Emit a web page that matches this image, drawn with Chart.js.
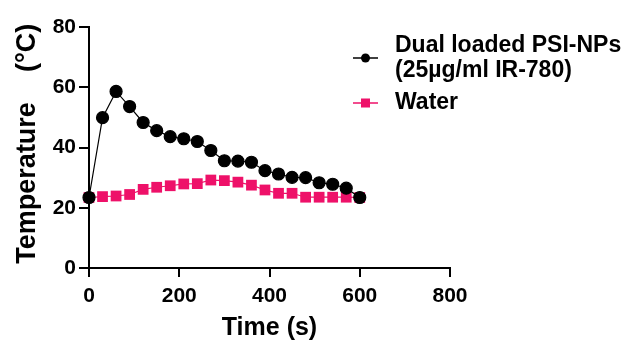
<!DOCTYPE html>
<html>
<head>
<meta charset="utf-8">
<script src="https://cdn.jsdelivr.net/npm/chart.js@4.4.0/dist/chart.umd.min.js"></script>
<style>
  body { margin: 0; background: #fff; }
  #wrap { position: relative; width: 624px; height: 342px; }
</style>
</head>
<body>
<div id="wrap"><canvas id="tempChart" width="624" height="342"></canvas></div>
<script>
// Data
const tiempos = [0, 30, 60, 90, 120, 150, 180, 210, 240, 270, 300, 330, 360, 390, 420, 450, 480, 510, 540, 570, 600];
const tempNPs = [23.4, 49.9, 58.6, 53.6, 48.3, 45.6, 43.6, 42.9, 42.0, 39.0, 35.6, 35.5, 35.1, 32.3, 31.2, 30.1, 30.0, 28.3, 27.8, 26.5, 23.4];
const tempAgua = [23.4, 23.7, 23.9, 24.4, 26.1, 26.8, 27.3, 27.9, 28.0, 29.2, 29.0, 28.5, 27.5, 25.9, 24.8, 24.8, 23.5, 23.5, 23.5, 23.5, 23.4];
const etiquetas = ['Dual loaded PSI-NPs\n(25µg/ml IR-780)', 'Water'];
const xTicks = [0, 200, 400, 600, 800];
const yTicks = [0, 20, 40, 60, 80];

const PINK = '#EE1169';
const FONT = 'Liberation Sans, Arial, sans-serif';

function toXY(ys) {
  return tiempos.map(function(t, i) { return { x: t, y: ys[i] }; });
}

// Legend drawn on the canvas (labels have two lines)
const legendaPlugin = {
  id: 'legenda',
  afterDraw: function(chart) {
    const ctx = chart.ctx;
    const filas = [
      { ds: chart.data.datasets[0], y: 46, markY: 58 },
      { ds: chart.data.datasets[1], y: 103, markY: 103 }
    ];
    ctx.save();
    filas.forEach(function(f) {
      const ds = f.ds;
      ctx.strokeStyle = ds.borderColor;
      ctx.lineWidth = 1.5;
      ctx.beginPath();
      ctx.moveTo(353, f.markY);
      ctx.lineTo(378, f.markY);
      ctx.stroke();
      ctx.fillStyle = ds.pointBackgroundColor;
      if (ds.pointStyle === 'rect') {
        ctx.fillRect(361, f.markY - 4.5, 9, 9);
      } else {
        ctx.beginPath();
        ctx.arc(365.5, f.markY, 4.5, 0, Math.PI * 2);
        ctx.fill();
      }
      ctx.fillStyle = '#000';
      ctx.font = 'bold 23px ' + FONT;
      ctx.textBaseline = 'middle';
      ctx.textAlign = 'left';
      ds.label.split('\n').forEach(function(linea, i) {
        ctx.fillText(linea, 395, f.y + i * 25);
      });
    });
    ctx.restore();
  }
};

const ctx = document.getElementById('tempChart').getContext('2d');
const tempChart = new Chart(ctx, {
  type: 'line',
  data: {
    datasets: [{
      label: etiquetas[0],
      data: toXY(tempNPs),
      borderColor: '#000',
      backgroundColor: '#000',
      pointBackgroundColor: '#000',
      pointBorderColor: '#000',
      pointStyle: 'circle',
      pointRadius: 6,
      borderWidth: 1.2,
      tension: 0,
      clip: false
    }, {
      label: etiquetas[1],
      data: toXY(tempAgua),
      borderColor: PINK,
      backgroundColor: PINK,
      pointBackgroundColor: PINK,
      pointBorderColor: PINK,
      pointStyle: 'rect',
      pointRadius: 7.6,
      pointBorderWidth: 0,
      borderWidth: 1.2,
      tension: 0,
      clip: false
    }]
  },
  options: {
    responsive: false,
    animation: false,
    layout: { padding: { top: 27, right: 174, left: 0, bottom: 0 } },
    plugins: {
      legend: { display: false },
      tooltip: { enabled: false }
    },
    scales: {
      x: {
        type: 'linear',
        min: 0,
        max: 800,
        afterBuildTicks: function(s) { s.ticks = xTicks.map(function(v) { return { value: v }; }); },
        afterFit: function(s) { s.height = 74; },
        border: { color: '#000', width: 2 },
        grid: { drawOnChartArea: false, drawTicks: true, tickLength: 9, color: '#000', lineWidth: 2 },
        ticks: { color: '#000', padding: 7, font: { family: FONT, size: 21, weight: 'bold' }, maxRotation: 0 },
        title: { display: true, text: 'Time (s)', color: '#000', padding: 0, font: { family: FONT, size: 25, weight: 'bold', lineHeight: 1.1 } }
      },
      y: {
        type: 'linear',
        min: 0,
        max: 80,
        afterBuildTicks: function(s) { s.ticks = yTicks.map(function(v) { return { value: v }; }); },
        afterFit: function(s) { s.width = 89; },
        border: { color: '#000', width: 2 },
        grid: { drawOnChartArea: false, drawTicks: true, tickLength: 10, color: '#000', lineWidth: 2 },
        ticks: { color: '#000', padding: 3, font: { family: FONT, size: 21, weight: 'bold' } },
        title: { display: true, text: ' Temperature    (°C)', color: '#000', padding: { top: 11, bottom: 0 }, font: { family: FONT, size: 27, weight: 'bold' } }
      }
    }
  },
  plugins: [legendaPlugin]
});
</script>
</body>
</html>
